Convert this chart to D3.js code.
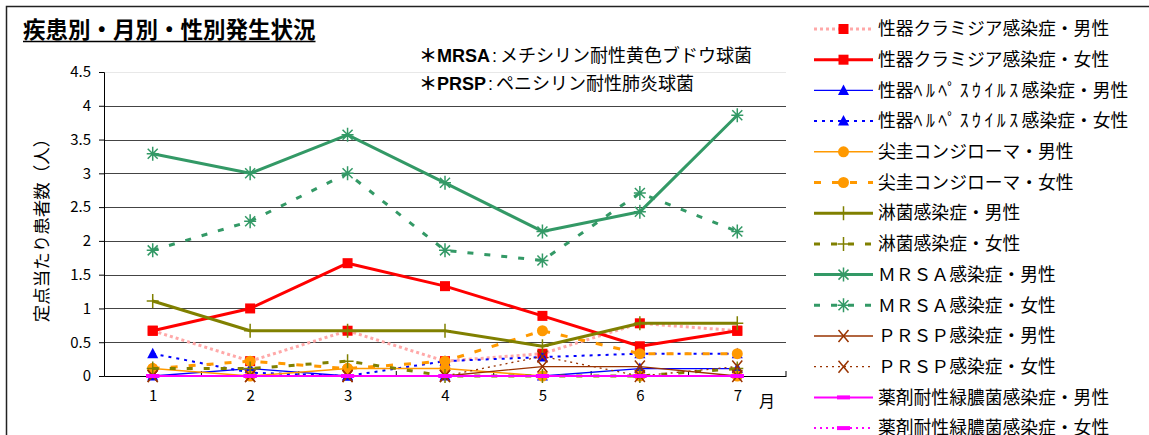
<!DOCTYPE html>
<html>
<head>
<meta charset="utf-8">
<script src="https://cdn.jsdelivr.net/npm/d3@7"></script>
<style>
  body { margin: 0; background: #fff; }
  svg { display: block; }
  text { font-family: "Noto Sans CJK JP", "Liberation Sans", sans-serif; }
</style>
</head>
<body>
<svg width="1149" height="435"></svg>
<script>
// months on the x axis and y ticks
var months = [1, 2, 3, 4, 5, 6, 7];
var yTicks = [0, 0.5, 1, 1.5, 2, 2.5, 3, 3.5, 4, 4.5];

// legend labels, in drawing order
var seriesNames = [
  "性器クラミジア感染症・男性",
  "性器クラミジア感染症・女性",
  "性器ﾍﾙﾍﾟｽｳｲﾙｽ感染症・男性",
  "性器ﾍﾙﾍﾟｽｳｲﾙｽ感染症・女性",
  "尖圭コンジローマ・男性",
  "尖圭コンジローマ・女性",
  "淋菌感染症・男性",
  "淋菌感染症・女性",
  "ＭＲＳＡ感染症・男性",
  "ＭＲＳＡ感染症・女性",
  "ＰＲＳＰ感染症・男性",
  "ＰＲＳＰ感染症・女性",
  "薬剤耐性緑膿菌感染症・男性",
  "薬剤耐性緑膿菌感染症・女性"
];

// values per sentinel
var chlamydiaM = [0.67, 0.22, 0.67, 0.22, 0.33, 0.78, 0.67];
var chlamydiaF = [0.67, 1.00, 1.67, 1.33, 0.89, 0.44, 0.67];
var herpesM    = [0, 0.11, 0, 0, 0, 0.11, 0.11];
var herpesF    = [0.33, 0.05, 0, 0.22, 0.28, 0.33, 0.33];
var condyM     = [0.11, 0, 0.11, 0.11, 0, 0, 0];
var condyF     = [0.11, 0.22, 0.11, 0.22, 0.67, 0.33, 0.33];
var gonoM      = [1.11, 0.67, 0.67, 0.67, 0.44, 0.78, 0.78];
var gonoF      = [0.11, 0.11, 0.22, 0, 0, 0, 0.11];
var mrsaM      = [3.29, 3.00, 3.57, 2.86, 2.14, 2.43, 3.86];
var mrsaF      = [1.86, 2.29, 3.00, 1.86, 1.71, 2.71, 2.14];
var prspM      = [0, 0, 0, 0, 0.14, 0.14, 0];
var prspF      = [0, 0, 0, 0, 0.29, 0, 0.14];
var pseudoM    = [0, 0, 0, 0, 0, 0, 0];
var pseudoF    = [0, 0, 0, 0, 0, 0, 0];

var seriesValues = [chlamydiaM, chlamydiaF, herpesM, herpesF, condyM, condyF,
                    gonoM, gonoF, mrsaM, mrsaF, prspM, prspF, pseudoM, pseudoF];

// notes under the title
var noteKeys = ["MRSA", "PRSP"];
var noteTexts = ["メチシリン耐性黄色ブドウ球菌", "ペニシリン耐性肺炎球菌"];

// line + marker styles for each series
var styles = [
  { line: "#ffa8a8", width: 3,   dash: "3,3",  mark: "square",   mcol: "#ff0000" },
  { line: "#ff0000", width: 3,   dash: null,   mark: "square",   mcol: "#ff0000" },
  { line: "#0000ff", width: 1.3, dash: null,   mark: "triangle", mcol: "#0000ff" },
  { line: "#0000ff", width: 2,   dash: "3,5",  mark: "triangle", mcol: "#0000ff" },
  { line: "#ff9900", width: 1.5, dash: null,   mark: "circle",   mcol: "#ff9900" },
  { line: "#ff9900", width: 3,   dash: "7,11", mark: "circle",   mcol: "#ff9900" },
  { line: "#808000", width: 3,   dash: null,   mark: "plus",     mcol: "#808000" },
  { line: "#808000", width: 3,   dash: "6,11", mark: "plus",     mcol: "#808000" },
  { line: "#339966", width: 3,   dash: null,   mark: "star",     mcol: "#339966" },
  { line: "#339966", width: 3,   dash: "6,11", mark: "star",     mcol: "#339966" },
  { line: "#993300", width: 1.3, dash: null,   mark: "cross",    mcol: "#993300" },
  { line: "#993300", width: 1.3, dash: "2,4",  mark: "cross",    mcol: "#993300" },
  { line: "#ff00ff", width: 2,   dash: null,   mark: "bar",      mcol: "#ff00ff" },
  { line: "#ff00ff", width: 2,   dash: "2,4",  mark: "bar",      mcol: "#ff00ff" }
];

var svg = d3.select("svg");

// outer chart frame (cut off on the right and bottom)
svg.append("path")
   .attr("d", "M6.5,440 L6.5,6.5 L1160,6.5")
   .attr("fill", "none")
   .attr("stroke", "#222")
   .attr("stroke-width", 1.5);

// title
var title = svg.append("text")
   .attr("x", 23)
   .attr("y", 38)
   .attr("font-size", 22.5)
   .attr("font-weight", "bold")
   .text("疾患別・月別・性別発生状況");
var tw = title.node().getComputedTextLength();
svg.append("line")
   .attr("x1", 23).attr("x2", 23 + tw)
   .attr("y1", 41.5).attr("y2", 41.5)
   .attr("stroke", "#000").attr("stroke-width", 1.5);

// notes
noteKeys.forEach(function(k, i) {
  var t = svg.append("text")
     .attr("x", 419)
     .attr("y", 62 + i * 28)
     .attr("font-size", 18);
  t.append("tspan").attr("font-weight", "bold").text("＊");
  t.append("tspan").attr("font-weight", "bold")
   .attr("font-family", "Liberation Sans, Arial, sans-serif").text(k);
  t.append("tspan").attr("dx", 2).attr("font-family", "Liberation Sans, Arial, sans-serif").text(":");
  t.append("tspan").attr("dx", 3).text(noteTexts[i]);
});

// plot area
var margin = { top: 72, left: 104 };
var width = 682, height = 304;

var g = svg.append("g")
           .attr("transform", "translate(" + margin.left + "," + margin.top + ")");

var x = d3.scalePoint()
          .domain(months)
          .range([0, width])
          .padding(0.5);

var y = d3.scaleLinear()
          .domain([0, 4.5])
          .range([height, 0]);

// grid lines
g.selectAll(".grid")
 .data(yTicks.filter(function(d) { return d > 0; }))
 .enter().append("line")
 .attr("x1", 0).attr("x2", width)
 .attr("y1", function(d) { return Math.round(y(d)) + 0.5; })
 .attr("y2", function(d) { return Math.round(y(d)) + 0.5; })
 .attr("stroke", function(d) { return d === 4.5 ? "#e8e8e8" : "#444"; })
 .attr("stroke-width", 1);

// y axis
var yAxis = g.append("g")
 .call(d3.axisLeft(y).tickValues(yTicks).tickSize(5).tickPadding(8)
          .tickFormat(function(d) { return String(d); }));
yAxis.selectAll("text").attr("font-size", 15).attr("fill", "#000")
     .attr("font-family", "Liberation Sans, Arial, sans-serif");
yAxis.select(".domain").attr("stroke", "#000");

// x axis: labels centred on months, ticks at category boundaries pointing inside
var xAxis = g.append("g")
 .attr("transform", "translate(0," + height + ")")
 .call(d3.axisBottom(x).tickSize(0).tickPadding(14));
xAxis.selectAll("text").attr("font-size", 15).attr("fill", "#000")
     .attr("font-family", "Liberation Sans, Arial, sans-serif");
xAxis.select(".domain").attr("stroke", "#000");

var step = x.step();
xAxis.selectAll(".bound")
 .data(d3.range(1, months.length + 1))
 .enter().append("line")
 .attr("x1", function(d) { return d * step; })
 .attr("x2", function(d) { return d * step; })
 .attr("y1", 0).attr("y2", -5)
 .attr("stroke", "#000");

g.append("text")
 .attr("x", width - 27)
 .attr("y", height + 31)
 .attr("font-size", 16)
 .text("月");

// y axis title
svg.append("text")
   .attr("transform", "translate(48,226) rotate(-90)")
   .attr("text-anchor", "middle")
   .attr("font-size", 17.5)
   .text("定点当たり患者数（人）");

// markers
function drawMarker(sel, shape, col) {
  if (shape === "square") {
    sel.append("rect").attr("x", -5).attr("y", -5).attr("width", 10).attr("height", 10)
       .attr("fill", col);
  } else if (shape === "triangle") {
    sel.append("path").attr("d", "M0,-6 L5.5,4.5 L-5.5,4.5 Z").attr("fill", col);
  } else if (shape === "circle") {
    sel.append("circle").attr("r", 5.5).attr("fill", col);
  } else if (shape === "plus") {
    sel.append("path").attr("d", "M-6,0 L6,0 M0,-7 L0,7")
       .attr("stroke", col).attr("stroke-width", 1.5).attr("fill", "none");
  } else if (shape === "star") {
    sel.append("path").attr("d", "M-6,0 L6,0 M0,-7 L0,7 M-5,-5 L5,5 M-5,5 L5,-5")
       .attr("stroke", col).attr("stroke-width", 1.5).attr("fill", "none");
  } else if (shape === "cross") {
    sel.append("path").attr("d", "M-5,-6 L5,6 M-5,6 L5,-6")
       .attr("stroke", col).attr("stroke-width", 1.5).attr("fill", "none");
  } else if (shape === "bar") {
    sel.append("rect").attr("x", -6.5).attr("y", -2).attr("width", 13).attr("height", 4)
       .attr("fill", col);
  }
}

var line = d3.line()
             .x(function(d, i) { return x(months[i]); })
             .y(function(d) { return y(d); });

seriesValues.forEach(function(vals, k) {
  var s = styles[k];
  var sg = g.append("g");
  sg.append("path")
    .datum(vals)
    .attr("fill", "none")
    .attr("stroke", s.line)
    .attr("stroke-width", s.width)
    .attr("stroke-dasharray", s.dash)
    .attr("stroke-linejoin", "round")
    .attr("d", line);
  sg.selectAll(".m")
    .data(vals)
    .enter().append("g")
    .attr("transform", function(d, i) { return "translate(" + x(months[i]) + "," + y(d) + ")"; })
    .each(function() { drawMarker(d3.select(this), s.mark, s.mcol); });
});

// legend
var legend = svg.append("g").attr("transform", "translate(814,29)");
var rowH = 30.7;
seriesNames.forEach(function(name, k) {
  var s = styles[k];
  var row = legend.append("g").attr("transform", "translate(0," + (k * rowH) + ")");
  row.append("line")
     .attr("x1", 0).attr("x2", 59)
     .attr("y1", 0).attr("y2", 0)
     .attr("stroke", s.line)
     .attr("stroke-width", s.width)
     .attr("stroke-dasharray", s.dash);
  drawMarker(row.append("g").attr("transform", "translate(29.5,0)"), s.mark, s.mcol);
  var t = row.append("text")
     .attr("x", 64)
     .attr("y", 0)
     .attr("dy", "0.35em")
     .attr("font-size", 17.8);
  // half-width katakana runs are drawn wider in the original font
  name.split(/([\uFF61-\uFF9F]+)/).forEach(function(part, j) {
    if (!part) return;
    t.append("tspan")
     .attr("letter-spacing", j % 2 ? 3.5 : null)
     .text(part);
  });
});
</script>
</body>
</html>
